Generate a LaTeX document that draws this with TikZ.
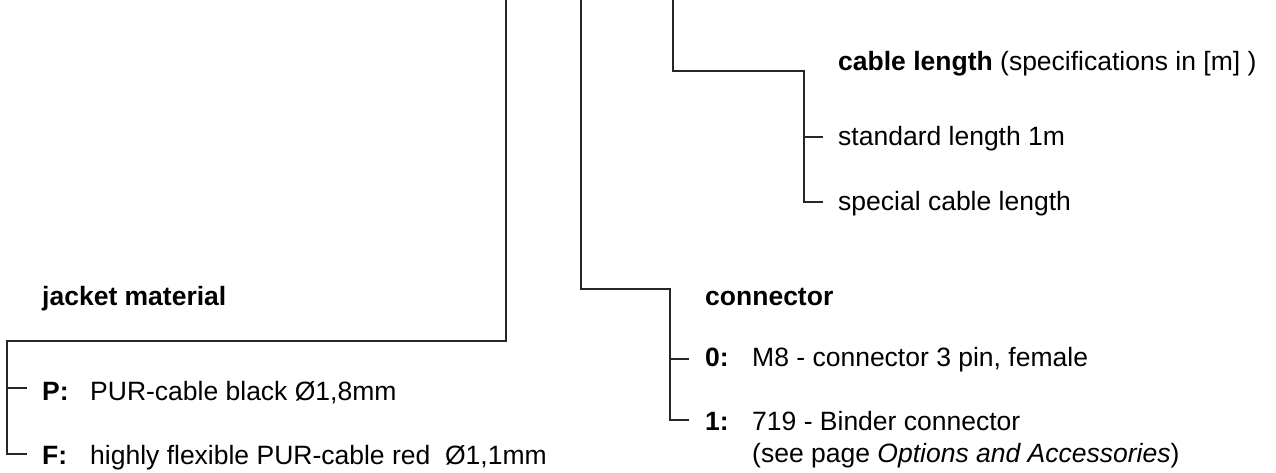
\documentclass[tikz,border=0pt]{standalone}
\usepackage{fontspec}
\setmainfont{Liberation Sans}
\begin{document}
\begin{tikzpicture}[x=1pt,y=-1pt,
  conn/.style={draw=black!85,line width=1.4pt},
  lbl/.style={anchor=base west,inner sep=0pt,font=\fontsize{26.5}{32}\selectfont},
  head/.style={lbl,font=\fontsize{26.5}{32}\selectfont\bfseries}]
\useasboundingbox (0,0) rectangle (1276,473);
% top ends
\coordinate (ta) at (506,0);
\coordinate (tb) at (581,0);
\coordinate (tc) at (673,0);
% jacket branch
\coordinate (ja) at (506,341);
\coordinate (jb) at (7,341);
\coordinate (jp) at (7,388);
\coordinate (jf) at (7,454);
\node[head] (jh) at (42,305) {jacket material};
\node[lbl] (pl) at (42,400) {\textbf{P:}};
\node[lbl] (pt) at (90,400) {PUR-cable black Ø1,8mm};
\node[lbl] (fl) at (42,464) {\textbf{F:}};
\node[lbl] (ft) at (90,464) {highly flexible PUR-cable red \ Ø1,1mm};
\coordinate (pe) at (27,388);
\coordinate (fe) at (27,454);
\draw[conn] (ta) -- (ja) -- (jb) -- (jf) -- (fe);
\draw[conn] (jp) -- (pe);
% connector branch
\coordinate (ca) at (581,289);
\coordinate (cb) at (670,289);
\coordinate (c0) at (670,359);
\coordinate (c1) at (670,420);
\coordinate (c0e) at (689,359);
\coordinate (c1e) at (689,420);
\node[head] (ch) at (705,305) {connector};
\node[lbl] (zl) at (705,366) {\textbf{0:}};
\node[lbl] (zt) at (752,366) {M8 - connector 3 pin, female};
\node[lbl] (ol) at (705,430) {\textbf{1:}};
\node[lbl] (ot) at (752,430) {719 - Binder connector};
\node[lbl] (os) at (752,462) {(see page \textit{Options and Accessories})};
\draw[conn] (tb) -- (ca) -- (cb) -- (c1) -- (c1e);
\draw[conn] (c0) -- (c0e);
% cable length branch
\coordinate (la) at (673,71);
\coordinate (lb) at (804,71);
\coordinate (l0) at (804,137);
\coordinate (l1) at (804,202);
\coordinate (l0e) at (823,137);
\coordinate (l1e) at (823,202);
\node[lbl] (lh) at (838,71) {\textbf{cable length} (specifications in [m] )};
\node[lbl] (st) at (838,146) {standard length 1m};
\node[lbl] (sp) at (838,211) {special cable length};
\draw[conn] (tc) -- (la) -- (lb) -- (l1) -- (l1e);
\draw[conn] (l0) -- (l0e);
\end{tikzpicture}
\end{document}
